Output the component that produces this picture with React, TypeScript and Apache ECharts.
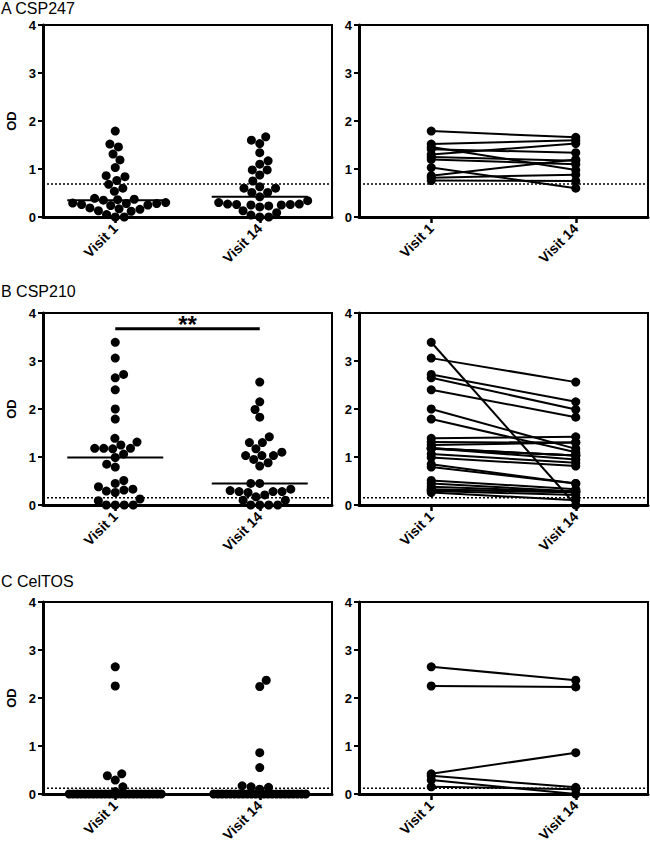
import React, { useEffect, useRef } from 'react';
import * as echarts from 'echarts';

// ---------- data ----------
const visits = ['Visit 1', 'Visit 14'];
const panelTitles = ['A CSP247', 'B CSP210', 'C CelTOS'];

const csp247Visit1 = [1.79, 1.52, 1.46, 1.31, 1.19, 1.03, 0.86, 0.84, 0.76, 0.68, 0.6, 0.535, 0.39, 0.37, 0.36, 0.35, 0.3, 0.29, 0.28, 0.28, 0.26, 0.25, 0.24, 0.19, 0.17, 0.16, 0.13, 0.12, 0.05, 0, 0];
const csp247Visit14 = [1.67, 1.6, 1.53, 1.34, 1.17, 1.1, 0.98, 0.98, 0.875, 0.75, 0.63, 0.6, 0.6, 0.51, 0.51, 0.42, 0.34, 0.3, 0.27, 0.27, 0.26, 0.26, 0.25, 0.25, 0.23, 0.21, 0.13, 0.09, 0.04, 0, 0];
const csp247PairedVisit1 = [1.79, 1.52, 1.46, 1.41, 1.3, 1.25, 1.2, 1.03, 0.86, 0.82, 0.76];
const csp247PairedVisit14 = [1.66, 1.6, 0.98, 1.34, 1.53, 1.17, 1.1, 0.6, 1.2, 0.88, 0.75];
const csp247Cutoff = 0.69;

const csp210Visit1 = [3.39, 3.06, 2.72, 2.65, 2.4, 2.0, 1.79, 1.39, 1.31, 1.25, 1.18, 1.18, 1.18, 1.17, 1.06, 0.99, 0.85, 0.79, 0.51, 0.45, 0.38, 0.33, 0.31, 0.29, 0.26, 0.125, 0.09, 0, 0, 0, 0];
const csp210Visit14 = [2.56, 2.15, 1.99, 1.83, 1.42, 1.3, 1.3, 1.17, 1.1, 1.03, 1.03, 1.03, 0.95, 0.88, 0.81, 0.45, 0.45, 0.33, 0.3, 0.28, 0.28, 0.28, 0.26, 0.21, 0.17, 0.1, 0.1, 0, 0, 0, 0];
const csp210PairedVisit1 = [3.39, 3.06, 2.72, 2.65, 2.4, 2.0, 1.79, 1.39, 1.31, 1.25, 1.18, 1.18, 1.18, 1.17, 1.06, 0.99, 0.85, 0.79, 0.51, 0.45, 0.38, 0.33, 0.31, 0.29, 0.26];
const csp210PairedVisit14 = [0.0, 2.56, 2.15, 1.99, 1.83, 1.17, 1.1, 1.42, 1.3, 1.3, 1.03, 1.03, 0.95, 1.03, 0.88, 0.81, 0.45, 0.45, 0.33, 0.28, 0.28, 0.26, 0.28, 0.21, 0.1];
const csp210Cutoff = 0.15;
const csp210Significance = 3.67;
const csp210SignificanceLabel = '**';

const celtosVisit1 = [2.65, 2.25, 0.42, 0.38, 0.29, 0.15, 0.05, 0, 0, 0, 0, 0, 0, 0, 0, 0, 0, 0, 0, 0, 0, 0, 0, 0, 0, 0, 0, 0, 0, 0, 0];
const celtosVisit14 = [2.37, 2.24, 0.86, 0.55, 0.17, 0.15, 0.14, 0.1, 0, 0, 0, 0, 0, 0, 0, 0, 0, 0, 0, 0, 0, 0, 0, 0, 0, 0, 0, 0, 0, 0, 0];
const celtosPairedVisit1 = [2.65, 2.25, 0.42, 0.38, 0.29, 0.15];
const celtosPairedVisit14 = [2.37, 2.23, 0.86, 0.14, 0.0, 0.1];
const celtosCutoff = 0.12;

const yMin = 0;
const yMax = 4;
const yStep = 1;

// ---------- layout / style ----------
const FONT = 'Liberation Sans, Arial, Helvetica, sans-serif';
const GRID_W = 289;
const GRID_H = 192;
const LEFT_X = 43;
const RIGHT_X = 359;
const ROW_TOPS = [25, 313, 602];
const TITLE_TOPS = [0, 283, 573];
const DOT = 9;
const SWARM_GAP = 9;
const SWARM_MAX_HALF = 46;
const X_MIN = -0.5;
const X_MAX = 1.5;
const PX_PER_X = GRID_W / (X_MAX - X_MIN);
const PX_PER_Y = GRID_H / (yMax - yMin);
const MEDIAN_HALF = 48 / PX_PER_X;
const CUTOFF_STUB = 7 / PX_PER_X;

function median(arr: number[]): number {
  const s = [...arr].sort((a, b) => a - b);
  const m = Math.floor(s.length / 2);
  return s.length % 2 ? s[m] : (s[m - 1] + s[m]) / 2;
}

// beeswarm layout: returns horizontal offsets (axis units) for each value
function swarm(values: number[]): number[] {
  const D = SWARM_GAP;
  const xs = new Array(values.length).fill(0);
  const groups = new Map<number, number[]>();
  values.forEach((v, i) => {
    const g = groups.get(v) || [];
    g.push(i);
    groups.set(v, g);
  });
  const compressed = new Set<number>();
  groups.forEach((idxs) => {
    if ((idxs.length - 1) * D > 2 * SWARM_MAX_HALF) {
      const step = (2 * SWARM_MAX_HALF) / (idxs.length - 1);
      idxs.forEach((i, k) => {
        xs[i] = -SWARM_MAX_HALF + k * step;
        compressed.add(i);
      });
    }
  });
  const placed: { x: number; y: number }[] = [];
  const order = values
    .map((_, i) => i)
    .filter((i) => !compressed.has(i))
    .sort((a, b) => values[a] - values[b]);
  let side = 1;
  for (const i of order) {
    const y = values[i] * PX_PER_Y;
    const cands = [0];
    for (const p of placed) {
      const dy = Math.abs(p.y - y);
      if (dy < D) {
        const dx = Math.sqrt(D * D - dy * dy);
        cands.push(p.x + dx, p.x - dx);
      }
    }
    const ok = cands.filter((c) => placed.every((p) => Math.hypot(p.x - c, p.y - y) >= D - 1e-6));
    ok.sort((a, b) => {
      const d = Math.abs(a) - Math.abs(b);
      if (Math.abs(d) > 1e-6) return d;
      return (b - a) * side;
    });
    const x = ok[0];
    if (Math.abs(x) > 1e-6) side = -Math.sign(x);
    placed.push({ x, y });
    xs[i] = x;
  }
  return xs.map((x) => x / PX_PER_X);
}

const panels = [
  { v1: csp247Visit1, v14: csp247Visit14, p1: csp247PairedVisit1, p14: csp247PairedVisit14, cutoff: csp247Cutoff, sig: null as number | null },
  { v1: csp210Visit1, v14: csp210Visit14, p1: csp210PairedVisit1, p14: csp210PairedVisit14, cutoff: csp210Cutoff, sig: csp210Significance as number | null },
  { v1: celtosVisit1, v14: celtosVisit14, p1: celtosPairedVisit1, p14: celtosPairedVisit14, cutoff: celtosCutoff, sig: null as number | null },
];

function buildOption() {
  const grid: any[] = [];
  const xAxis: any[] = [];
  const yAxis: any[] = [];
  const series: any[] = [];
  const title: any[] = [];

  panels.forEach((p, r) => {
    title.push({
      text: panelTitles[r],
      left: 1,
      top: TITLE_TOPS[r],
      padding: 0,
      textStyle: { fontFamily: FONT, fontSize: 16, fontWeight: 'normal', color: '#000' },
    });
    [LEFT_X, RIGHT_X].forEach((left, c) => {
      const g = r * 2 + c;
      grid.push({ left, top: ROW_TOPS[r], width: GRID_W, height: GRID_H, show: true, borderColor: '#000', borderWidth: 2, backgroundColor: 'transparent' });
      xAxis.push({
        type: 'category',
        gridIndex: g,
        data: visits,
        boundaryGap: true,
        axisLine: { show: true, onZero: false, lineStyle: { color: '#000', width: 3 } },
        axisTick: { show: true, alignWithLabel: true, length: 6, lineStyle: { color: '#000', width: 2.5 } },
        axisLabel: { interval: 0, rotate: 45, margin: 9, color: '#000', fontFamily: FONT, fontSize: 14, fontWeight: 'bold' },
        splitLine: { show: false },
      });
      xAxis.push({ type: 'value', gridIndex: g, min: X_MIN, max: X_MAX, show: false, splitLine: { show: false }, axisLine: { onZero: false } });
      yAxis.push({
        type: 'value',
        gridIndex: g,
        min: yMin,
        max: yMax,
        interval: yStep,
        name: c === 0 ? 'OD' : '',
        nameLocation: 'middle',
        nameGap: 25,
        nameTextStyle: { color: '#000', fontFamily: FONT, fontSize: 13, fontWeight: 'bold' },
        axisLine: { show: true, onZero: false, lineStyle: { color: '#000', width: 3 } },
        axisTick: { show: true, length: 5, lineStyle: { color: '#000', width: 2 } },
        axisLabel: { margin: 7, color: '#000', fontFamily: FONT, fontSize: 13, fontWeight: 'bold' },
        splitLine: { show: false },
      });
      const xi = g * 2 + 1;
      // cutoff line
      series.push({
        type: 'line', xAxisIndex: xi, yAxisIndex: g, symbol: 'none', silent: true,
        data: [[X_MIN, p.cutoff], [X_MAX, p.cutoff]],
        lineStyle: { color: '#000', width: 1.5, type: [2, 2] }, z: 1,
      });
      series.push({
        type: 'line', xAxisIndex: xi, yAxisIndex: g, symbol: 'none', silent: true, clip: false,
        data: [[X_MIN - CUTOFF_STUB, p.cutoff], [X_MIN, p.cutoff]],
        lineStyle: { color: '#000', width: 1.5 }, z: 1,
      });
      if (c === 0) {
        const o1 = swarm(p.v1);
        const o14 = swarm(p.v14);
        series.push({
          type: 'scatter', xAxisIndex: xi, yAxisIndex: g, symbolSize: DOT, silent: true,
          itemStyle: { color: '#000', opacity: 1 }, data: p.v1.map((v, i) => [0 + o1[i], v]), z: 3,
        });
        series.push({
          type: 'scatter', xAxisIndex: xi, yAxisIndex: g, symbolSize: DOT, silent: true,
          itemStyle: { color: '#000', opacity: 1 }, data: p.v14.map((v, i) => [1 + o14[i], v]), z: 3,
        });
        [p.v1, p.v14].forEach((arr, k) => {
          const m = median(arr);
          series.push({
            type: 'line', xAxisIndex: xi, yAxisIndex: g, symbol: 'none', silent: true,
            data: [[k - MEDIAN_HALF, m], [k + MEDIAN_HALF, m]],
            lineStyle: { color: '#000', width: 2 }, z: 4,
          });
        });
        if (p.sig !== null) {
          series.push({
            type: 'line', xAxisIndex: xi, yAxisIndex: g, symbol: 'none', silent: true,
            data: [[0, p.sig], [1, p.sig]],
            lineStyle: { color: '#000', width: 3 }, z: 4,
          });
          series.push({
            type: 'scatter', xAxisIndex: xi, yAxisIndex: g, symbolSize: 1, silent: true,
            itemStyle: { color: 'transparent', opacity: 1 },
            data: [[0.5, p.sig]],
            label: {
              show: true, position: 'inside', offset: [0, -4], formatter: csp210SignificanceLabel,
              color: '#000', opacity: 1, fontFamily: FONT, fontSize: 24, fontWeight: 'bold',
            },
            z: 5,
          });
        }
      } else {
        p.p1.forEach((a, i) => {
          series.push({
            type: 'line', xAxisIndex: xi, yAxisIndex: g, silent: true,
            symbol: 'circle', symbolSize: DOT, showSymbol: true,
            data: [[0, a], [1, p.p14[i]]],
            lineStyle: { color: '#000', width: 2 },
            itemStyle: { color: '#000', opacity: 1 }, z: 3,
          });
        });
      }
    });
  });

  return { animation: false, backgroundColor: '#fff', title, grid, xAxis, yAxis, series };
}

export default function App() {
  const ref = useRef<HTMLDivElement>(null);
  useEffect(() => {
    if (!ref.current) return;
    const chart = echarts.init(ref.current, null, { renderer: 'svg' });
    chart.setOption(buildOption() as any);
    return () => chart.dispose();
  }, []);
  return <div ref={ref} style={{ position: 'absolute', left: 0, top: 0, width: 650, height: 845 }} />;
}
